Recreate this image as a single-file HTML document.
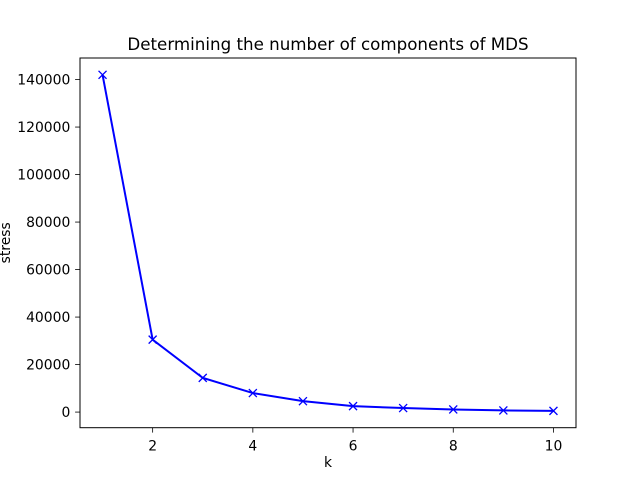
<!DOCTYPE html>
<html><head><meta charset="utf-8"><style>
body{margin:0;background:#fff;font-family:"Liberation Sans","DejaVu Sans",sans-serif;}
svg text{font-family:"DejaVu Sans","Liberation Sans",sans-serif;}
</style></head><body>
<svg id="chart" width="640" height="480" xmlns="http://www.w3.org/2000/svg">
<rect width="640" height="480" fill="#fff"/>
<g id="g"></g>
</svg>
<script>
const categories=[1,2,3,4,5,6,7,8,9,10];
const stressValues=[142000,30500,14400,8000,4600,2500,1700,1100,700,500];
const xTicks=[2,4,6,8,10];
const yTicks=[0,20000,40000,60000,80000,100000,120000,140000];
const L=80,R=576,T=58,B=427.7;
const xmin=0.55,xmax=10.45;
const dmin=Math.min(...stressValues),dmax=Math.max(...stressValues),pad=(dmax-dmin)*0.05;
const ymin=dmin-pad,ymax=dmax+pad;
const sx=v=>L+(v-xmin)/(xmax-xmin)*(R-L);
const sy=v=>B-(v-ymin)/(ymax-ymin)*(B-T);
const g=document.getElementById('g');const NS='http://www.w3.org/2000/svg';
function mk(t,a,txt){const e=document.createElementNS(NS,t);for(const k in a)e.setAttribute(k,a[k]);if(txt!==undefined)e.textContent=txt;g.appendChild(e);return e;}
xTicks.forEach(v=>{const x=sx(v);
const t=mk('line',{x1:x,x2:x,y1:B,y2:B+4.9,stroke:'#000','stroke-width':0.8});

const l=mk('text',{x:x,y:B+23,'font-size':13.9,'text-anchor':'middle'},String(v));
});
yTicks.forEach(v=>{const y=sy(v);
const t=mk('line',{x1:L-4.9,x2:L,y1:y,y2:y,stroke:'#000','stroke-width':0.8});

const l=mk('text',{x:L-9.7,y:y+5,'font-size':13.9,'text-anchor':'end'},String(v));
});
const pts=categories.map((c,i)=>sx(c)+','+sy(stressValues[i])).join(' ');
const line=mk('polyline',{points:pts,fill:'none',stroke:'#0000ff','stroke-width':2});

categories.forEach((c,i)=>{const x=sx(c),y=sy(stressValues[i]);
const m=mk('path',{d:`M${x-4},${y-4}L${x+4},${y+4}M${x-4},${y+4}L${x+4},${y-4}`,stroke:'#0000ff','stroke-width':1.3});
});
const f=mk('rect',{x:L,y:T,width:R-L,height:B-T,fill:'none',stroke:'#000','stroke-width':1});

const ti=mk('text',{x:(L+R)/2,y:50,'font-size':16.7,'text-anchor':'middle'},'Determining the number of components of MDS');

const xl=mk('text',{x:(L+R)/2,y:467,'font-size':13.9,'text-anchor':'middle'},'k');

const yl=mk('text',{x:0,y:0,'font-size':13.9,'text-anchor':'middle',transform:`translate(10,${(T+B)/2}) rotate(-90)`},'stress');

</script>
</body></html>
